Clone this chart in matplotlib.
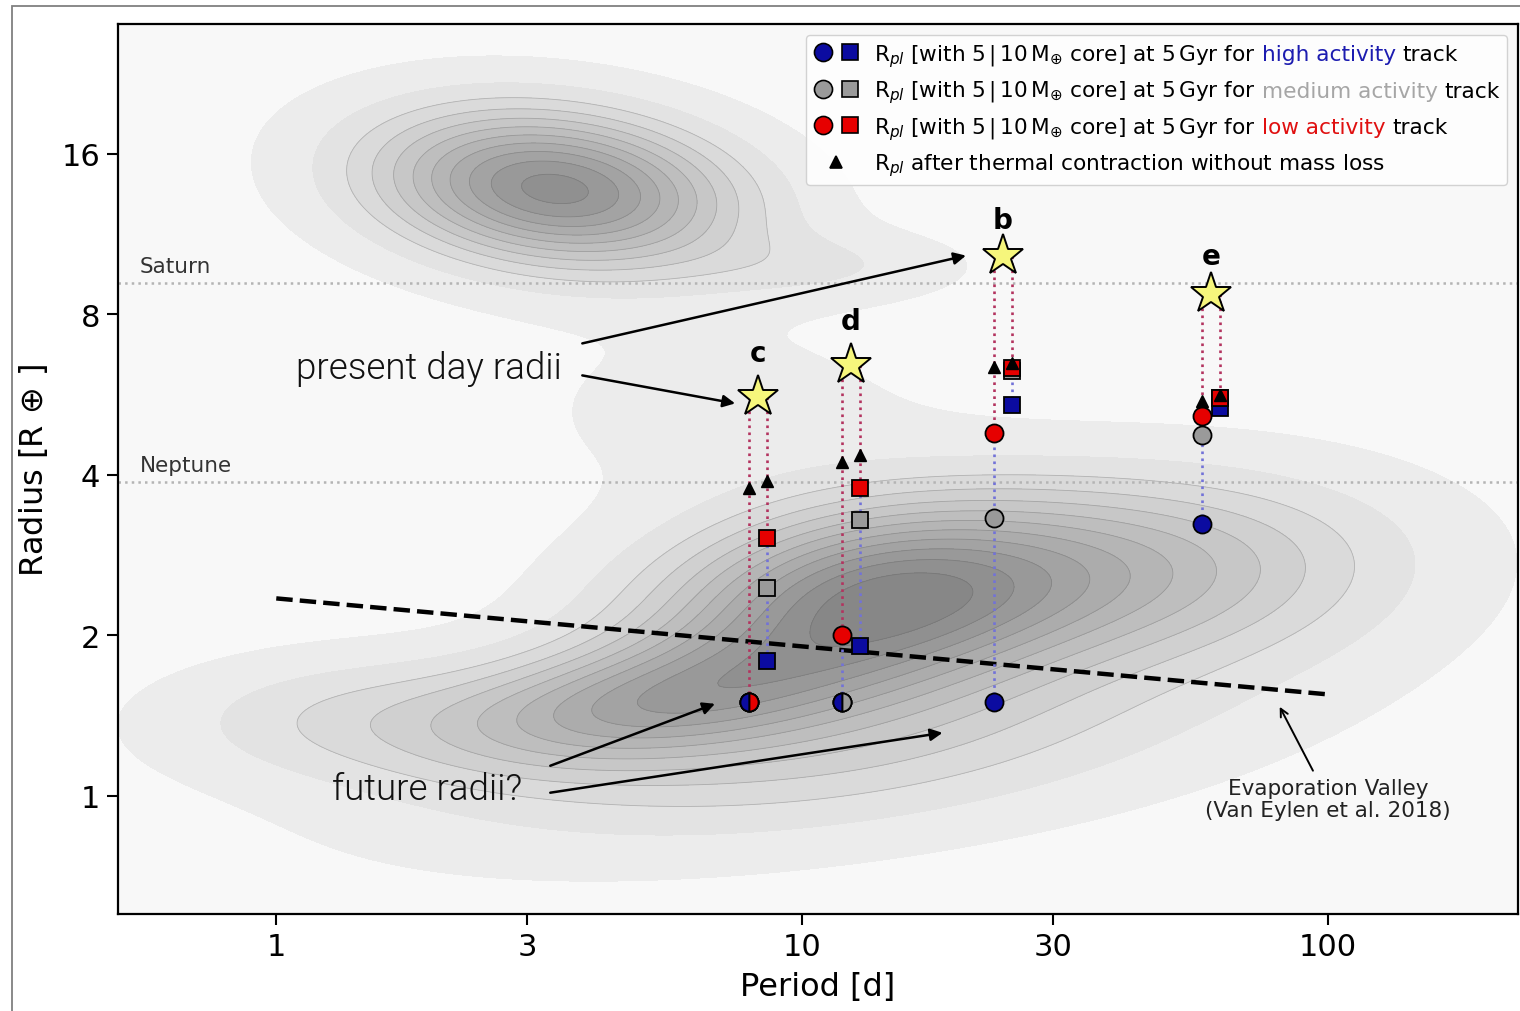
import numpy as np
import matplotlib
matplotlib.use('Agg')
import matplotlib.pyplot as plt
from matplotlib.lines import Line2D
from matplotlib.patches import Rectangle
from matplotlib.offsetbox import AnchoredOffsetbox, DrawingArea, HPacker, VPacker, TextArea

# planets of the system (present day)
planets = ['c', 'd', 'b', 'e']
period = [8.25, 12.4, 24.1, 60.0]
r_now = [5.59, 6.41, 10.27, 8.74]

# radius after thermal contraction, no mass loss (5 | 10 M_earth core)
r_contr_5 = [3.78, 4.23, 6.37, 5.50]
r_contr_10 = [3.90, 4.35, 6.47, 5.63]

# radius at 5 Gyr, 5 M_earth core
r5_high = [1.50, 1.50, 1.50, 3.23]
r5_med = [1.50, 1.50, 3.32, 4.75]
r5_low = [1.50, 2.00, 4.79, 5.16]
# radius at 5 Gyr, 10 M_earth core
r10_high = [1.79, 1.91, 5.40, 5.34]
r10_med = [2.45, 3.29, 6.26, 5.58]
r10_low = [3.04, 3.77, 6.35, 5.58]

# reference radii
r_saturn = 9.14
r_neptune = 3.88

# evaporation valley, log10 R = m log10 P + a
valley_m = -0.09
valley_a = 0.37
valley_p = [1.0, 100.0]

# background population density, gaussian pieces in (log10 P, log2 R)
kde_amp = [1.00, 0.64, 0.50, 0.22, 0.32, 0.075, 1.05, 0.12]
kde_logp = [1.13, 0.71, 1.65, 0.15, 1.05, 0.85, 0.53, 1.05]
kde_log2r = [1.22, 0.59, 1.40, 0.50, 0.30, 2.40, 3.78, 3.30]
kde_sp = [0.28, 0.27, 0.32, 0.25, 0.50, 0.28, 0.23, 0.18]
kde_sr = [0.40, 0.28, 0.40, 0.26, 0.42, 0.40, 0.33, 0.15]
kde_rho = [0.20, 0.40, 0.10, 0.10, 0.45, 0.00, -0.20, 0.00]

blue = '#0b0ba0'
gray = '#9a9a9a'
red = '#e60000'
line_red = '#b3335f'
line_blue = '#7272d8'

fig = plt.figure(figsize=(15.2, 10.12), dpi=100)
ax = fig.add_axes([118/1520, 1-915/1012, 1400/1520, 890/1012])
ax.set_facecolor('#f8f8f8')

# density background
lp = np.linspace(-0.5, 2.5, 400)
lr = np.linspace(-1.0, 5.0, 400)
LP, LR = np.meshgrid(lp, lr)
Z = np.zeros_like(LP)
for a, mx, my, sx, sy, rho in zip(kde_amp, kde_logp, kde_log2r, kde_sp, kde_sr, kde_rho):
    dx = (LP - mx)/sx
    dy = (LR - my)/sy
    Z += a*np.exp(-(dx**2 - 2*rho*dx*dy + dy**2)/(2*(1 - rho**2)))
levels = np.linspace(0.045, Z.max()*1.001, 13)
greys = [str(v) for v in np.linspace(0.925, 0.53, len(levels) - 1)]
ax.contourf(10**LP, 2**LR, Z, levels=levels, colors=greys, zorder=0)
ax.contour(10**LP, 2**LR, Z, levels=levels[2:], colors='#555555', linewidths=0.6, alpha=0.3, zorder=0)

# Saturn / Neptune
for rr, name in [(r_saturn, 'Saturn'), (r_neptune, 'Neptune')]:
    ax.axhline(rr, color='#b4b4b4', ls=':', lw=1.8, zorder=1)
    ax.annotate(name, xy=(0.55, rr), xytext=(0, 5), textcoords='offset points',
                ha='left', va='bottom', fontsize=15.5, color='#333333')

# evaporation valley
vp = np.array(valley_p)
ax.plot(vp, 10**(valley_a + valley_m*np.log10(vp)), ls='--', color='k', lw=3.2, zorder=2)

off5 = 1/1.04
off10 = 1.04
cols = [(off5, r_contr_5, r5_high, r5_med, r5_low, 'o', 13),
        (off10, r_contr_10, r10_high, r10_med, r10_low, 's', 11.5)]

for i, p in enumerate(period):
    for off, rc, rh, rm, rl, mk, ms in cols:
        x = p*off
        ax.plot([x, x], [r_now[i], rl[i]], ls=':', color=line_red, lw=1.9, zorder=3)
        ax.plot([x, x], [rl[i], rh[i]], ls=':', color=line_blue, lw=1.9, zorder=3)
        for val, c in [(rh[i], blue), (rm[i], gray), (rl[i], red)]:
            ax.plot(x, val, marker=mk, ms=ms, mfc=c, mec='k', mew=1.3, ls='none', zorder=4)
        if rh[i] == rl[i]:
            ax.plot(x, rh[i], marker=mk, ms=ms, mfc=blue, mfcalt=red, fillstyle='left',
                    mec='k', mew=1.3, ls='none', zorder=5)
        elif rh[i] == rm[i]:
            ax.plot(x, rh[i], marker=mk, ms=ms, mfc=blue, mfcalt=gray, fillstyle='left',
                    mec='k', mew=1.3, ls='none', zorder=5)
        ax.plot(x, rc[i], marker='^', ms=9, color='k', ls='none', zorder=6)
    ax.plot(p, r_now[i], marker='*', ms=31, mfc='#f6f67c', mec='k', mew=1.4, ls='none', zorder=7)

label_off = {'c': 22, 'd': 22, 'b': 16, 'e': 17}
for i, name in enumerate(planets):
    ax.annotate(name, xy=(period[i], r_now[i]), xytext=(0, label_off[name]), textcoords='offset points',
                ha='center', va='bottom', fontsize=20, fontweight='bold')

# annotations
light = dict(fontfamily='Roboto', fontweight=300, fontsize=26.5, color='#111111')
ax.text(3.50, 6.33, 'present day radii', ha='right', va='center', **light)
ax.text(2.94, 1.03, 'future radii?', ha='right', va='center', **light)
arr = dict(arrowstyle='-|>', color='k', lw=1.8, mutation_scale=18, shrinkA=0, shrinkB=0)
ax.annotate('', xy=(20.5, 10.3), xytext=(3.82, 7.05), arrowprops=arr)
ax.annotate('', xy=(7.46, 5.44), xytext=(3.82, 6.14), arrowprops=arr)
ax.annotate('', xy=(6.83, 1.487), xytext=(3.32, 1.138), arrowprops=arr)
ax.annotate('', xy=(18.5, 1.312), xytext=(3.32, 1.013), arrowprops=arr)
ax.annotate('', xy=(81.0, 1.468), xytext=(93.7, 1.114),
            arrowprops=dict(arrowstyle='->', color='k', lw=1.4, mutation_scale=14, shrinkA=0, shrinkB=0))
ax.text(100, 0.985, 'Evaporation Valley\n(Van Eylen et al. 2018)', ha='center', va='center',
        fontsize=15.5, color='#222222', linespacing=1.1)

# axes
ax.set_xscale('log')
ax.set_yscale('log', base=2)
ax.set_xlim(0.5, 230)
ax.set_ylim(0.6, 28)
ax.set_xticks([1, 3, 10, 30, 100])
ax.set_xticklabels(['1', '3', '10', '30', '100'])
ax.set_yticks([1, 2, 4, 8, 16])
ax.set_yticklabels(['1', '2', '4', '8', '16'])
ax.minorticks_off()
ax.tick_params(labelsize=22, length=8, width=1.5, pad=5)
for s in ax.spines.values():
    s.set_linewidth(1.6)
ax.set_xlabel('Period [d]', fontsize=23, labelpad=7)
ax.set_ylabel(r'Radius [R$\,\oplus\,$]', fontsize=23, labelpad=8)

# legend with coloured words
tfs = 15.6
prefix = r'R$_{pl}$ [with 5$\,$|$\,$10$\,$M$_{\oplus}$ core] at 5$\,$Gyr for'
rows_spec = [([('o', blue, 13), ('s', blue, 11.5)], [(prefix, 'k'), ('high activity', '#1c1cb0'), ('track', 'k')]),
             ([('o', gray, 13), ('s', gray, 11.5)], [(prefix, 'k'), ('medium activity', '#a6a6a6'), ('track', 'k')]),
             ([('o', red, 13), ('s', red, 11.5)], [(prefix, 'k'), ('low activity', '#e01010'), ('track', 'k')]),
             ([('^', 'k', 8)], [(r'R$_{pl}$ after thermal contraction without mass loss', 'k')])]
rows = []
for marks, parts in rows_spec:
    da = DrawingArea(38, 14, 0, 4)
    if len(marks) == 2:
        xs = [7.5, 26.5]
    else:
        xs = [17]
    for xm, (m, c, s) in zip(xs, marks):
        da.add_artist(Line2D([xm], [5.7], marker=m, ms=s, mfc=c, mec='k' if m != '^' else c,
                             mew=1.2, ls='none'))
    texts = [TextArea(t, textprops=dict(color=c, fontsize=tfs)) for t, c in parts]
    tp = HPacker(children=texts, align='baseline', pad=0, sep=4.8)
    rows.append(HPacker(children=[da, tp], align='baseline', pad=0, sep=6))
box = VPacker(children=rows, align='left', pad=0, sep=7)
leg = AnchoredOffsetbox(loc='upper right', child=box, pad=0.5, borderpad=0.8, frameon=True,
                        prop=dict(size=10))
leg.patch.set_boxstyle('round', pad=0, rounding_size=0.3)
leg.patch.set_facecolor('white')
leg.patch.set_alpha(0.85)
leg.patch.set_edgecolor('#cccccc')
leg.zorder = 10
ax.add_artist(leg)

# outer frame
fig.add_artist(Rectangle((12/1520, -0.05), 1.1, 1.05 - 7/1012, transform=fig.transFigure,
                         fill=False, edgecolor='#808080', lw=1.3, clip_on=False))

fig.savefig('out.png', dpi=100)
